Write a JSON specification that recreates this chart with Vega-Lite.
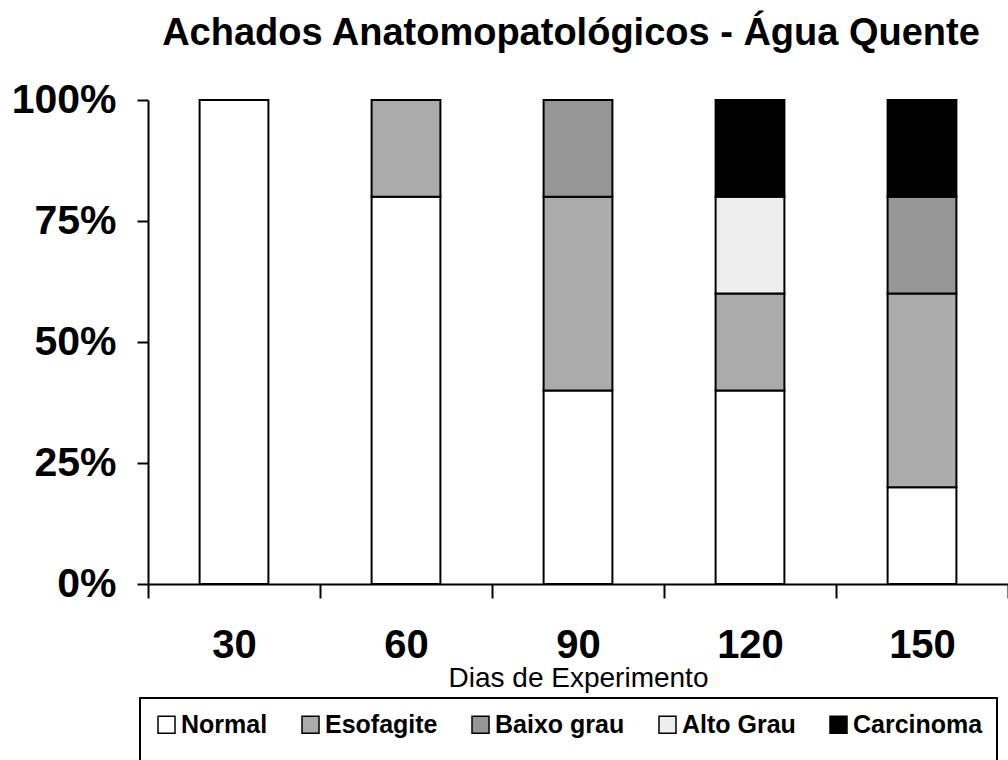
{
  "$schema": "https://vega.github.io/schema/vega-lite/v6.json",
  "width": 860,
  "height": 484,
  "autosize": {"type": "none"},
  "padding": {"left": 148, "top": 100, "right": 0, "bottom": 176},
  "background": "white",
  "title": {
    "text": "Achados Anatomopatológicos - Água Quente",
    "font": "Liberation Sans",
    "fontSize": 38,
    "fontWeight": "bold",
    "color": "black",
    "anchor": "middle",
    "baseline": "alphabetic",
    "offset": -4,
    "dx": -7
  },
  "data": {
    "values": [
      {"dias": "30", "achado": "Normal", "pct": 1.0},
      {"dias": "60", "achado": "Normal", "pct": 0.8},
      {"dias": "60", "achado": "Esofagite", "pct": 0.2},
      {"dias": "90", "achado": "Normal", "pct": 0.4},
      {"dias": "90", "achado": "Esofagite", "pct": 0.4},
      {"dias": "90", "achado": "Baixo grau", "pct": 0.2},
      {"dias": "120", "achado": "Normal", "pct": 0.4},
      {"dias": "120", "achado": "Esofagite", "pct": 0.2},
      {"dias": "120", "achado": "Alto Grau", "pct": 0.2},
      {"dias": "120", "achado": "Carcinoma", "pct": 0.2},
      {"dias": "150", "achado": "Normal", "pct": 0.2},
      {"dias": "150", "achado": "Esofagite", "pct": 0.4},
      {"dias": "150", "achado": "Baixo grau", "pct": 0.2},
      {"dias": "150", "achado": "Carcinoma", "pct": 0.2}
    ]
  },
  "transform": [
    {"calculate": "indexof(['Normal','Esofagite','Baixo grau','Alto Grau','Carcinoma'], datum.achado)", "as": "ordem"}
  ],
  "mark": {"type": "bar", "stroke": "black", "strokeWidth": 2, "width": {"band": 0.4}},
  "encoding": {
    "x": {
      "field": "dias",
      "type": "ordinal",
      "sort": ["30", "60", "90", "120", "150"],
      "scale": {"paddingInner": 0, "paddingOuter": 0},
      "axis": {
        "title": "Dias de Experimento",
        "labelAngle": 0,
        "tickBand": "extent",
        "tickSize": 14,
        "tickWidth": 2,
        "tickColor": "black",
        "domainColor": "black",
        "domainWidth": 2,
        "labelFont": "Liberation Sans",
        "labelFontSize": 40,
        "labelFontWeight": "bold",
        "labelColor": "black",
        "labelPadding": 27,
        "titleFont": "Liberation Sans",
        "titleFontSize": 28,
        "titleFontWeight": "normal",
        "titleColor": "black",
        "titlePadding": -1
      }
    },
    "y": {
      "field": "pct",
      "type": "quantitative",
      "stack": "zero",
      "scale": {"domain": [0, 1], "nice": false},
      "axis": {
        "title": null,
        "values": [0, 0.25, 0.5, 0.75, 1],
        "format": ".0%",
        "grid": false,
        "tickSize": 11,
        "tickWidth": 2,
        "tickColor": "black",
        "domainColor": "black",
        "domainWidth": 2,
        "labelFont": "Liberation Sans",
        "labelFontSize": 41,
        "labelFontWeight": "bold",
        "labelColor": "black",
        "labelPadding": 21
      }
    },
    "order": {"field": "ordem", "type": "quantitative", "sort": "ascending"},
    "color": {
      "field": "achado",
      "type": "nominal",
      "sort": ["Normal", "Esofagite", "Baixo grau", "Alto Grau", "Carcinoma"],
      "scale": {
        "domain": ["Normal", "Esofagite", "Baixo grau", "Alto Grau", "Carcinoma"],
        "range": ["#ffffff", "#ababab", "#969696", "#eeeeee", "#000000"]
      },
      "legend": {
        "title": " ",
        "titleOrient": "bottom",
        "titleFontSize": 24,
        "titlePadding": 0,
        "orient": "none",
        "legendX": -8,
        "legendY": 598,
        "direction": "horizontal",
        "columns": 5,
        "symbolType": "square",
        "symbolSize": 289,
        "symbolStrokeColor": "black",
        "symbolStrokeWidth": 1.5,
        "symbolOpacity": 1,
        "labelFont": "Liberation Sans",
        "labelFontSize": 25,
        "labelFontWeight": "bold",
        "labelColor": "black",
        "labelOffset": 2,
        "labelLimit": 400,
        "columnPadding": 30,
        "padding": 14,
        "strokeColor": "black",
        "fillColor": "white",
        "encode": {"legend": {"update": {"strokeWidth": {"value": 2}}}}
      }
    }
  },
  "config": {
    "view": {"stroke": null}
  }
}
